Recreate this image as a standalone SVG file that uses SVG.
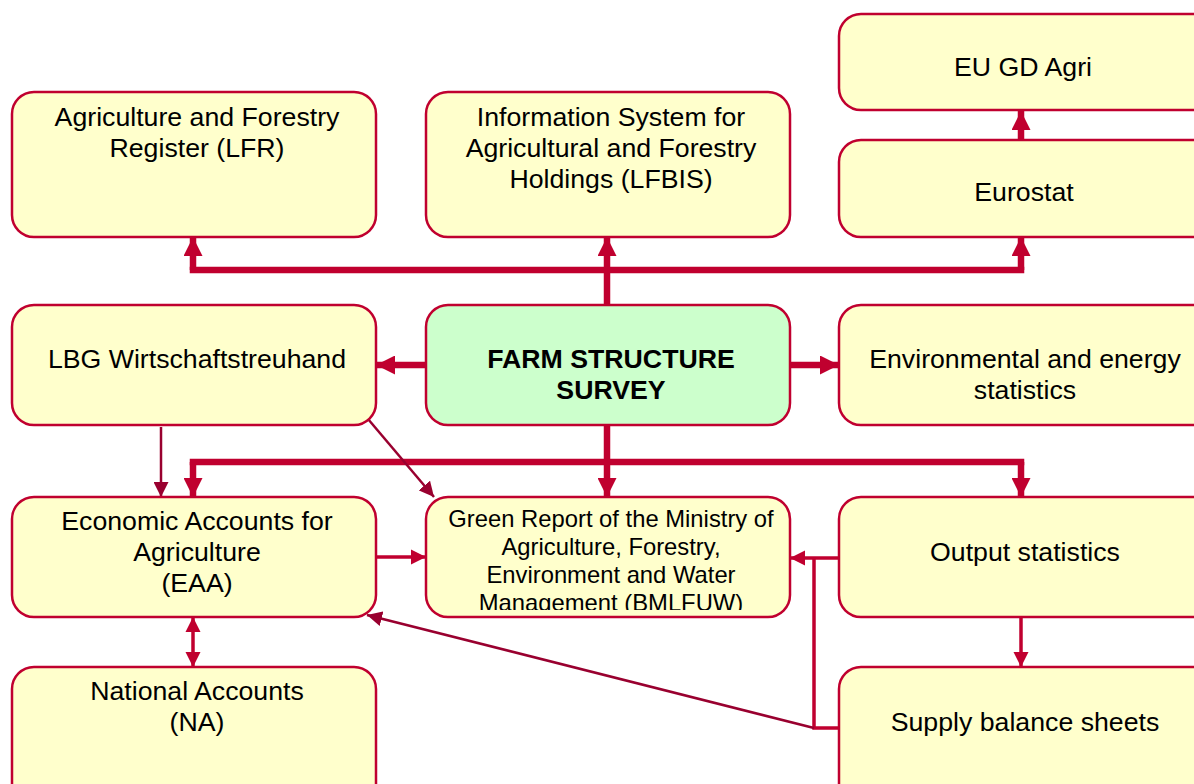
<svg xmlns="http://www.w3.org/2000/svg" width="1194" height="784" viewBox="0 0 1194 784">
<style>
.box{fill:#ffffcc;stroke:#c0002f;stroke-width:2.5}
.fss{fill:#ccffcc;stroke:#c0002f;stroke-width:2.5}
text{font-family:"Liberation Sans",Arial,sans-serif;font-size:26.7px;fill:#000;text-anchor:middle}
.small{font-size:23.8px}
.bold{font-weight:bold}
.thick{fill:none;stroke:#c0002f;stroke-width:6.5}
.mid{fill:none;stroke:#c0002f;stroke-width:3.5}
.thin{fill:none;stroke:#99002f;stroke-width:2.5}
</style>
<defs>
<marker id="big" viewBox="0 0 10 10" refX="10" refY="5" markerUnits="userSpaceOnUse" markerWidth="19" markerHeight="19" orient="auto"><path d="M0,0 L10,5 L0,10 z" fill="#c0002f"/></marker>
<marker id="med" viewBox="0 0 10 10" refX="10" refY="5" markerUnits="userSpaceOnUse" markerWidth="15" markerHeight="16" orient="auto-start-reverse"><path d="M0,0 L10,5 L0,10 z" fill="#c0002f"/></marker>
<marker id="sm" viewBox="0 0 10 10" refX="10" refY="5" markerUnits="userSpaceOnUse" markerWidth="15" markerHeight="15" orient="auto"><path d="M0,0 L10,5 L0,10 z" fill="#99002f"/></marker>
<clipPath id="grclip"><rect x="428" y="499" width="360" height="111"/></clipPath>
</defs>

<g id="connectors">
<path class="thick" d="M607,305 V270"/>
<path class="thick" d="M193,270 H1021" stroke-linecap="square"/>
<path class="thick" d="M193,270 V237" marker-end="url(#big)"/>
<path class="thick" d="M607,270 V237" marker-end="url(#big)"/>
<path class="thick" d="M1021,270 V237" marker-end="url(#big)"/>
<path class="thick" d="M1021,140 V111" marker-end="url(#big)"/>
<path class="thick" d="M426,365 H376" marker-end="url(#big)"/>
<path class="thick" d="M790,365 H839" marker-end="url(#big)"/>
<path class="thick" d="M607,425 V462"/>
<path class="thick" d="M193,462 H1021" stroke-linecap="square"/>
<path class="thick" d="M193,462 V497" marker-end="url(#big)"/>
<path class="thick" d="M607,462 V497" marker-end="url(#big)"/>
<path class="thick" d="M1021,462 V497" marker-end="url(#big)"/>
<path class="thin" d="M161,427 V497" marker-end="url(#sm)"/>
<path class="thin" d="M368,419 L434,497" marker-end="url(#sm)"/>
<path class="mid" d="M376,557 H426" marker-end="url(#med)"/>
<path class="mid" d="M839,558 H790" marker-end="url(#med)"/>
<path class="mid" d="M814,558 V728 H839"/>
<path class="thin" d="M814,728 L367,615" marker-end="url(#sm)"/>
<path class="mid" d="M1021,617 V667" marker-end="url(#med)"/>
<path class="mid" d="M193,617 V667" marker-start="url(#med)" marker-end="url(#med)"/>
</g>

<g id="lfr"><rect class="box" x="12" y="92" width="364" height="145" rx="22"/>
<text x="197" y="126">Agriculture and Forestry</text><text x="197" y="157">Register (LFR)</text></g>
<g id="lfbis"><rect class="box" x="426" y="92" width="364" height="145" rx="22"/>
<text x="611" y="126">Information System for</text><text x="611" y="157">Agricultural and Forestry</text><text x="611" y="188">Holdings (LFBIS)</text></g>
<g id="eugdagri"><rect class="box" x="839" y="14" width="380" height="96" rx="22"/>
<text x="1023" y="76">EU GD Agri</text></g>
<g id="eurostat"><rect class="box" x="839" y="140" width="380" height="97" rx="22"/>
<text x="1024" y="201">Eurostat</text></g>
<g id="lbg"><rect class="box" x="12" y="305" width="364" height="120" rx="22"/>
<text x="197" y="368">LBG Wirtschaftstreuhand</text></g>
<g id="fss"><rect class="fss" x="426" y="305" width="364" height="120" rx="22"/>
<text class="bold" x="611" y="368">FARM STRUCTURE</text><text class="bold" x="611" y="399">SURVEY</text></g>
<g id="env"><rect class="box" x="839" y="305" width="380" height="120" rx="22"/>
<text x="1025" y="368">Environmental and energy</text><text x="1025" y="399">statistics</text></g>
<g id="eaa"><rect class="box" x="12" y="497" width="364" height="120" rx="22"/>
<text x="197" y="530">Economic Accounts for</text><text x="197" y="561">Agriculture</text><text x="197" y="592">(EAA)</text></g>
<g id="greenreport"><rect class="box" x="426" y="497" width="364" height="120" rx="22"/>
<g clip-path="url(#grclip)"><text class="small" x="611" y="527">Green Report of the Ministry of</text><text class="small" x="611" y="555">Agriculture, Forestry,</text><text class="small" x="611" y="583">Environment and Water</text><text class="small" x="611" y="611">Management (BMLFUW)</text></g></g>
<g id="output"><rect class="box" x="839" y="497" width="380" height="120" rx="22"/>
<text x="1025" y="561">Output statistics</text></g>
<g id="na"><rect class="box" x="12" y="667" width="364" height="140" rx="22"/>
<text x="197" y="700">National Accounts</text><text x="197" y="731">(NA)</text></g>
<g id="supply"><rect class="box" x="839" y="667" width="380" height="140" rx="22"/>
<text x="1025" y="731">Supply balance sheets</text></g>
</svg>
